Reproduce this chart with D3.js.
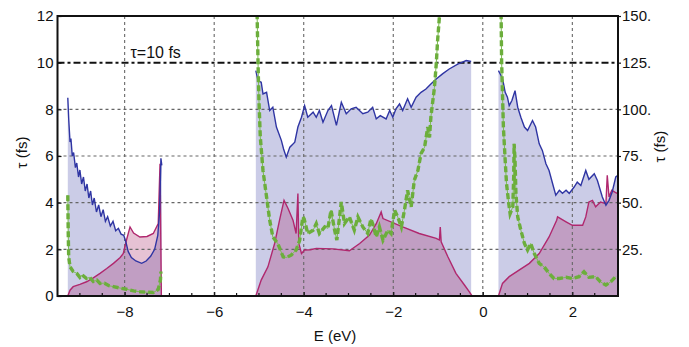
<!DOCTYPE html>
<html>
<head>
<title>Lifetime vs energy</title>
<script src="https://d3js.org/d3.v7.min.js"></script>
<style>
  body { margin: 0; background: #fff; }
  text { font-family: "Liberation Sans", Arial, Helvetica, sans-serif; fill: #111; }
</style>
</head>
<body>
<script>
// x ticks, left ticks, right ticks
const xTicks = [-8, -6, -4, -2, 0, 2];
const xMinorTicks = [-9, -8.5, -7.5, -7, -6.5, -5.5, -5, -4.5, -3.5, -3, -2.5, -1.5, -1, -0.5, 0.5, 1, 1.5, 2.5];
const yTicks = [0, 2, 4, 6, 8, 10, 12];
const rightTicks = [25, 50, 75, 100, 125, 150];
const refLine = 10;

// blue curve (upper), three energy windows
const blue1 = [[-9.27,8.5],[-9.25,7.6],[-9.22,6.6],[-9.2,6.75],[-9.17,6.0],[-9.14,6.15],[-9.1,5.5],[-9.07,5.7],
  [-9.03,5.1],[-9.0,5.4],[-8.96,4.8],[-8.92,5.1],[-8.88,4.5],[-8.84,4.8],[-8.8,4.2],[-8.76,4.5],[-8.72,3.9],
  [-8.68,4.2],[-8.63,3.6],[-8.58,3.9],[-8.53,3.4],[-8.48,3.7],[-8.43,3.2],[-8.38,3.4],[-8.32,3.0],[-8.26,3.2],
  [-8.2,2.8],[-8.14,2.9],[-8.08,2.65],[-8.02,2.6],[-7.97,2.3],[-7.92,1.9],[-7.85,1.65],[-7.75,1.5],[-7.62,1.4],
  [-7.52,1.5],[-7.42,1.7],[-7.33,2.0],[-7.26,2.6],[-7.22,3.6],[-7.19,5.9],[-7.17,5.6]];
const blue2 = [[-5.07,9.66],[-5.02,9.23],[-4.95,9.16],[-4.91,8.66],[-4.83,8.73],[-4.76,7.95],[-4.69,8.09],
  [-4.61,7.24],[-4.5,6.67],[-4.45,6.3],[-4.39,5.95],[-4.31,6.38],[-4.2,6.59],[-4.13,7.24],[-4.05,7.66],[-3.98,8.16],
  [-3.91,7.66],[-3.79,7.88],[-3.72,7.66],[-3.65,7.95],[-3.57,7.45],[-3.46,7.95],[-3.38,8.16],[-3.27,7.31],
  [-3.16,8.3],[-3.05,7.81],[-2.94,8.02],[-2.83,8.09],[-2.68,7.81],[-2.57,7.88],[-2.46,8.09],[-2.38,7.59],
  [-2.29,7.73],[-2.16,7.59],[-2.08,7.95],[-2.01,7.66],[-1.94,8.02],[-1.86,8.23],[-1.79,7.95],[-1.68,8.45],
  [-1.6,8.09],[-1.49,8.52],[-1.38,8.73],[-1.27,8.87],[-1.16,9.09],[-1.04,9.3],[-0.9,9.52],[-0.75,9.73],
  [-0.56,9.94],[-0.37,10.09],[-0.26,10.05]];
const blue3 = [[0.35,9.66],[0.41,9.44],[0.45,9.23],[0.5,8.73],[0.55,8.52],[0.59,8.16],[0.65,8.38],[0.72,8.8],
  [0.78,8.09],[0.85,7.66],[0.93,7.24],[1.0,7.09],[1.11,7.52],[1.18,7.24],[1.26,6.52],[1.33,6.24],[1.41,5.67],
  [1.48,5.38],[1.56,4.81],[1.63,4.32],[1.71,4.53],[1.78,4.4],[1.86,4.53],[1.93,4.4],[2.04,4.67],[2.11,4.88],
  [2.19,4.74],[2.3,5.38],[2.37,5.0],[2.49,5.24],[2.56,4.95],[2.67,4.24],[2.75,3.89],[2.82,4.1],[2.89,4.46],
  [2.97,5.1],[3.0,5.15]];

// magenta curve (lower)
const mag1 = [[-9.27,0],[-9.22,0.25],[-9.15,0.4],[-9.0,0.5],[-8.85,0.61],[-8.7,0.78],[-8.55,0.97],[-8.4,1.18],
  [-8.25,1.4],[-8.1,1.65],[-8.03,1.82],[-7.96,2.39],[-7.88,2.96],[-7.8,2.7],[-7.66,2.53],[-7.5,2.55],
  [-7.36,2.68],[-7.25,3.1],[-7.21,5.67],[-7.18,0]];
const mag2 = [[-5.07,0],[-4.95,0.68],[-4.8,1.25],[-4.65,2.25],[-4.54,3.25],[-4.44,4.1],[-4.35,3.75],[-4.24,3.25],
  [-4.17,2.68],[-4.13,4.39],[-4.11,2.25],[-4.05,1.82],[-3.98,1.97],[-3.85,1.98],[-3.72,2.04],[-3.35,2.02],
  [-2.98,1.94],[-2.75,2.25],[-2.53,2.61],[-2.38,3.1],[-2.27,3.6],[-2.23,3.32],[-1.79,2.96],[-1.42,2.68],
  [-1.04,2.47],[-0.97,2.4],[-0.95,2.96],[-0.93,2.32],[-0.78,1.68],[-0.6,0.97],[-0.41,0.47],[-0.3,0.18],[-0.24,0]];
const mag3 = [[0.35,0],[0.44,0.54],[0.59,0.83],[0.81,1.11],[1.04,1.4],[1.26,1.82],[1.48,2.53],[1.65,3.25],
  [1.67,3.39],[1.86,3.18],[2.0,3.03],[2.23,3.03],[2.3,3.39],[2.37,4.03],[2.45,4.1],[2.52,3.82],[2.63,4.03],
  [2.75,3.96],[2.78,5.17],[2.82,4.24],[2.88,4.53],[2.95,4.45],[3.0,4.4]];

// green dashed curve (right axis scale shown in fs / 12.5)
const green1 = [[-9.27,4.32],[-9.26,2.68],[-9.25,1.68],[-9.22,1.25],[-9.15,1.05],[-9.07,0.97],[-9.0,0.8],
  [-8.95,0.9],[-8.85,0.75],[-8.78,0.8],[-8.7,0.62],[-8.62,0.68],[-8.55,0.54],[-8.45,0.55],[-8.35,0.44],
  [-8.25,0.4],[-8.1,0.34],[-7.96,0.29],[-7.8,0.22],[-7.66,0.18],[-7.5,0.16],[-7.36,0.15],[-7.25,0.28],
  [-7.2,0.7],[-7.19,1.05]];
const green2 = [[-5.06,12.5],[-5.04,11.94],[-5.02,9.94],[-5.0,8.38],[-4.97,6.81],[-4.91,5.38],[-4.83,4.24],
  [-4.76,3.25],[-4.69,2.53],[-4.58,2.25],[-4.46,1.68],[-4.39,1.65],[-4.28,1.75],[-4.17,1.97],[-4.09,2.39],
  [-4.02,3.39],[-3.99,3.3],[-3.91,2.68],[-3.79,2.82],[-3.72,3.1],[-3.65,2.68],[-3.53,2.96],[-3.46,2.9],
  [-3.39,3.68],[-3.31,2.82],[-3.26,2.4],[-3.16,4.03],[-3.09,3.1],[-2.98,3.39],[-2.87,2.82],[-2.79,3.39],
  [-2.68,2.96],[-2.57,2.68],[-2.5,3.3],[-2.46,3.1],[-2.38,2.53],[-2.31,2.96],[-2.23,2.39],[-2.12,2.82],
  [-2.05,2.68],[-1.97,3.68],[-1.9,3.39],[-1.82,2.96],[-1.75,3.68],[-1.68,4.53],[-1.6,3.82],[-1.53,4.96],
  [-1.45,5.38],[-1.38,6.1],[-1.3,6.38],[-1.23,7.24],[-1.19,6.8],[-1.16,7.66],[-1.08,8.94],[-1.04,9.94],
  [-1.01,10.94],[-0.97,11.94],[-0.95,12.5]];
const green3 = [[0.4,12.5],[0.41,11.9],[0.42,10.09],[0.44,8.66],[0.46,7.24],[0.5,5.81],[0.53,4.81],[0.58,3.96],
  [0.61,3.53],[0.67,3.82],[0.69,5.1],[0.7,6.52],[0.72,5.81],[0.74,4.39],[0.78,3.39],[0.85,2.82],[0.93,2.25],
  [1.0,1.97],[1.07,2.25],[1.15,1.82],[1.26,1.4],[1.37,1.25],[1.48,0.97],[1.59,0.75],[1.71,0.75],[1.86,0.8],
  [2.0,0.75],[2.15,0.83],[2.26,1.04],[2.37,0.8],[2.52,0.83],[2.63,0.6],[2.75,0.47],[2.86,0.61],[2.97,0.83]];

const W = 689, H = 347;
const margin = {top: 16, right: 71, bottom: 51, left: 57.5};
const width = W - margin.left - margin.right,
      height = H - margin.top - margin.bottom;

const svg = d3.select("body").append("svg")
    .attr("width", W).attr("height", H);
const g = svg.append("g")
    .attr("transform", "translate(" + margin.left + "," + margin.top + ")");

const x = d3.scaleLinear().domain([-9.5, 3.02]).range([0, width]);
const y = d3.scaleLinear().domain([0, 12]).range([height, 0]);
const y2 = d3.scaleLinear().domain([0, 150]).range([height, 0]);

g.append("clipPath").attr("id", "clip")
  .append("rect").attr("width", width).attr("height", height);

const plot = g.append("g").attr("clip-path", "url(#clip)");

const area = d3.area().x(d => x(d[0])).y0(y(0)).y1(d => y(d[1]));
const line = d3.line().x(d => x(d[0])).y(d => y(d[1]));

// fills
[blue1, blue2, blue3].forEach(s => {
  plot.append("path").datum(s).attr("d", area)
    .attr("fill", "rgb(70,72,168)").attr("fill-opacity", 0.28);
});
[mag1, mag2, mag3].forEach(s => {
  plot.append("path").datum(s).attr("d", area)
    .attr("fill", "rgb(172,52,112)").attr("fill-opacity", 0.3);
});

// grid
plot.selectAll(".vgrid").data(xTicks).enter().append("line")
  .attr("x1", d => x(d)).attr("x2", d => x(d)).attr("y1", 0).attr("y2", height)
  .attr("stroke", "#666").attr("stroke-width", 1.1).attr("stroke-dasharray", "3,3");
plot.selectAll(".hgrid").data(yTicks.filter(d => d > 0 && d < 12 && d !== refLine)).enter().append("line")
  .attr("x1", 0).attr("x2", width).attr("y1", d => y(d)).attr("y2", d => y(d))
  .attr("stroke", "#666").attr("stroke-width", 1.1).attr("stroke-dasharray", "3,3");

// reference line tau = 10 fs
plot.append("line")
  .attr("x1", 0).attr("x2", width).attr("y1", y(refLine)).attr("y2", y(refLine))
  .attr("stroke", "#111").attr("stroke-width", 2).attr("stroke-dasharray", "7,3,3,3");

// curves
[mag1, mag2, mag3].forEach(s => {
  plot.append("path").datum(s).attr("d", line)
    .attr("fill", "none").attr("stroke", "#b0286e").attr("stroke-width", 1.4);
});
[blue1, blue2, blue3].forEach(s => {
  plot.append("path").datum(s).attr("d", line)
    .attr("fill", "none").attr("stroke", "#2f35a3").attr("stroke-width", 1.4);
});
[green1, green2, green3].forEach(s => {
  plot.append("path").datum(s).attr("d", line)
    .attr("fill", "none").attr("stroke", "#7cbc52").attr("stroke-width", 1);
  plot.append("path").datum(s).attr("d", line)
    .attr("fill", "none").attr("stroke", "#6cae3c").attr("stroke-width", 3.4)
    .attr("stroke-dasharray", "6,3");
});

plot.append("text")
  .attr("x", x(-7.87)).attr("y", y(10) - 5)
  .style("font-size", "16px").text("\u03c4=10 fs");

// axes
const xAxis = g.append("g").attr("transform", "translate(0," + height + ")")
  .call(d3.axisBottom(x).tickValues(xTicks).tickSize(-4).tickPadding(10)
    .tickFormat(d => d < 0 ? "\u2212" + Math.abs(d) : d));
g.append("g").attr("transform", "translate(0," + height + ")")
  .selectAll("line").data(xMinorTicks).enter().append("line")
  .attr("x1", d => x(d)).attr("x2", d => x(d)).attr("y1", 0).attr("y2", -3)
  .attr("stroke", "#111").attr("stroke-width", 1.2);

const yAxis = g.append("g")
  .call(d3.axisLeft(y).tickValues(yTicks).tickSize(-4).tickPadding(4));

const yAxis2 = g.append("g").attr("transform", "translate(" + width + ",0)")
  .call(d3.axisRight(y2).tickValues(rightTicks).tickSize(3).tickPadding(1)
    .tickFormat(d => d + "."));

[xAxis, yAxis, yAxis2].forEach(a => {
  a.select(".domain").remove();
  a.selectAll(".tick line").attr("stroke", "#111").attr("stroke-width", 1.2);
  a.selectAll("text").style("font-size", "15px").style("font-family", "Liberation Sans, Arial, sans-serif").attr("fill", "#111");
});

// frame
g.append("rect").attr("width", width).attr("height", height)
  .attr("fill", "none").attr("stroke", "#111").attr("stroke-width", 2);

// axis titles
g.append("text")
  .attr("transform", "translate(" + (-31) + "," + (y(6.15)) + ") rotate(-90)")
  .style("text-anchor", "middle").style("font-size", "15px").text("\u03c4 (fs)");
g.append("text")
  .attr("transform", "translate(" + (width + 47) + "," + (y2(80)) + ") rotate(-90)")
  .style("text-anchor", "middle").style("font-size", "15px").text("\u03c4 (fs)");
g.append("text")
  .attr("x", x(-3.3)).attr("y", height + 45)
  .style("text-anchor", "middle").style("font-size", "15px").text("E (eV)");
</script>
</body>
</html>
